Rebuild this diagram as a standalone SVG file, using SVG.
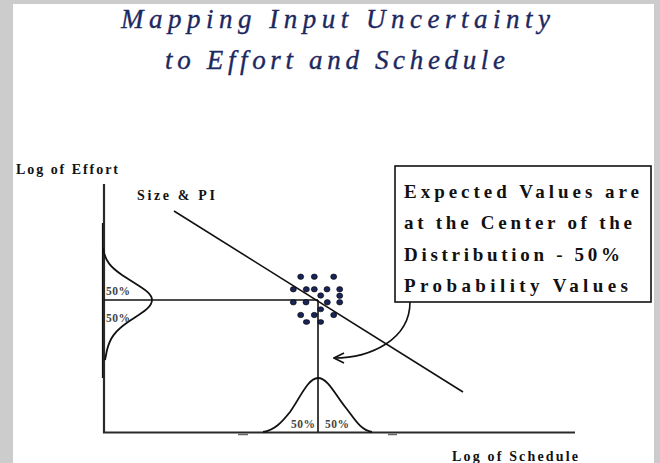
<svg xmlns="http://www.w3.org/2000/svg" width="660" height="463" viewBox="0 0 660 463">
  <style>
    .title { font-family: "Liberation Serif", "DejaVu Serif", serif; font-style: italic; font-size: 27px; fill: #1c2860; stroke: #1c2860; stroke-width: 0.35; }
    .lbl { font-family: "Liberation Serif", "DejaVu Serif", serif; font-weight: bold; font-size: 14px; fill: #111; }
    .pct { font-family: "Liberation Serif", "DejaVu Serif", serif; font-weight: bold; font-size: 11.5px; fill: #444; }
    .box { font-family: "Liberation Serif", "DejaVu Serif", serif; font-weight: bold; font-size: 19px; fill: #111; }
    .axis { stroke: #2a2a2a; stroke-width: 2.2; fill: none; }
    .ln { stroke: #111; stroke-width: 1.6; fill: none; }
    .curve { stroke: #111; stroke-width: 1.8; fill: none; stroke-linejoin: round; }
    .dot { fill: #1a2456; stroke: #000; stroke-width: 0.6; }
  </style>
  <defs>
    <marker id="arrow" viewBox="0 0 12 12" refX="11" refY="6" markerWidth="12" markerHeight="12" markerUnits="userSpaceOnUse" orient="auto">
      <path d="M1,1 L11,6 L1,11" fill="none" stroke="#111" stroke-width="1.6"/>
    </marker>
  </defs>

  <!-- page background -->
  <rect x="0" y="0" width="660" height="463" fill="#cccccc"/>
  <rect x="13" y="4" width="641" height="459" fill="#ffffff"/>

  <g id="title">
    <text class="title" x="121" y="28" textLength="429" lengthAdjust="spacing">Mapping Input Uncertainty</text>
    <text class="title" x="165" y="69" textLength="340" lengthAdjust="spacing">to Effort and Schedule</text>
  </g>

  <g id="axis-labels">
    <text class="lbl" x="16" y="174" textLength="102" lengthAdjust="spacing">Log of Effort</text>
    <text class="lbl" x="452" y="461" textLength="126" lengthAdjust="spacing">Log of Schedule</text>
  </g>

  <g id="axes">
    <path class="axis" d="M104,184 L104,432.5 L575,432.5"/>
    <path d="M238,434.5 L248,434.5 M388,434.5 L397,434.5" stroke="#666" stroke-width="1.5"/>
  </g>

  <g id="size-pi-line">
    <text class="lbl" x="137" y="200" textLength="78" lengthAdjust="spacing">Size &amp; PI</text>
    <path class="ln" d="M174,211 L463,392"/>
  </g>

  <g id="effort-distribution">
    <path d="M102.5,223 L102.5,378" stroke="#111" stroke-width="1.2"/>
    <path class="curve" d="M103,248 C105,262 112,268 122,275 C140,287 152,292 152,300 C152,308 140,314 128,322 C115,331 110,338 107,350 L105,360"/>
    <text class="pct" x="106" y="295" textLength="24" lengthAdjust="spacing">50%</text>
    <text class="pct" x="106" y="322" textLength="24" lengthAdjust="spacing">50%</text>
  </g>

  <g id="schedule-distribution">
    <path class="curve" d="M263,432 C275,430 282,422 290,412 C300,398 308,378 318,378 C328,378 336,396 346,408 C354,418 360,430 372,432"/>
    <text class="pct" x="291" y="428" textLength="24" lengthAdjust="spacing">50%</text>
    <text class="pct" x="325" y="428" textLength="24" lengthAdjust="spacing">50%</text>
  </g>

  <g id="connectors">
    <path class="ln" d="M104,300 L318,300"/>
    <path class="ln" d="M318,300 L318,432"/>
    <path class="ln" d="M410,302 C410,340 370,358 334,358" marker-end="url(#arrow)"/>
  </g>

  <g id="dots">
    <ellipse class="dot" cx="300.7" cy="276.7" rx="3" ry="2.7"/>
    <ellipse class="dot" cx="314.3" cy="276.7" rx="3" ry="2.7"/>
    <ellipse class="dot" cx="333.7" cy="276.7" rx="3" ry="2.7"/>
    <ellipse class="dot" cx="293.3" cy="289.3" rx="3" ry="2.7"/>
    <ellipse class="dot" cx="306.3" cy="289.3" rx="3" ry="2.7"/>
    <ellipse class="dot" cx="314.3" cy="289.3" rx="3" ry="2.7"/>
    <ellipse class="dot" cx="327" cy="289.3" rx="3" ry="2.7"/>
    <ellipse class="dot" cx="339.7" cy="289.3" rx="3" ry="2.7"/>
    <ellipse class="dot" cx="320.7" cy="295.5" rx="3" ry="2.7"/>
    <ellipse class="dot" cx="339.7" cy="295.8" rx="3" ry="2.7"/>
    <ellipse class="dot" cx="293.3" cy="302.3" rx="3" ry="2.7"/>
    <ellipse class="dot" cx="306" cy="302.3" rx="3" ry="2.7"/>
    <ellipse class="dot" cx="327.3" cy="302.3" rx="3" ry="2.7"/>
    <ellipse class="dot" cx="339.7" cy="302.3" rx="3" ry="2.7"/>
    <ellipse class="dot" cx="320.7" cy="309.3" rx="3" ry="2.5"/>
    <ellipse class="dot" cx="300.7" cy="315" rx="3" ry="2.7"/>
    <ellipse class="dot" cx="314.3" cy="315" rx="3" ry="2.7"/>
    <ellipse class="dot" cx="333.7" cy="315" rx="3" ry="2.7"/>
    <ellipse class="dot" cx="306.5" cy="322" rx="3.2" ry="2.4"/>
    <ellipse class="dot" cx="320.7" cy="322" rx="3" ry="2.4"/>
  </g>

  <g id="callout-box">
    <rect x="395" y="166" width="256" height="136" fill="#ffffff" stroke="#111" stroke-width="1.6"/>
    <text class="box" x="404" y="198" textLength="235" lengthAdjust="spacing">Expected Values are</text>
    <text class="box" x="404" y="229" textLength="228" lengthAdjust="spacing">at the Center of the</text>
    <text class="box" x="404" y="261" textLength="216" lengthAdjust="spacing">Distribution - 50%</text>
    <text class="box" x="404" y="292" textLength="224" lengthAdjust="spacing">Probability Values</text>
  </g>
</svg>
